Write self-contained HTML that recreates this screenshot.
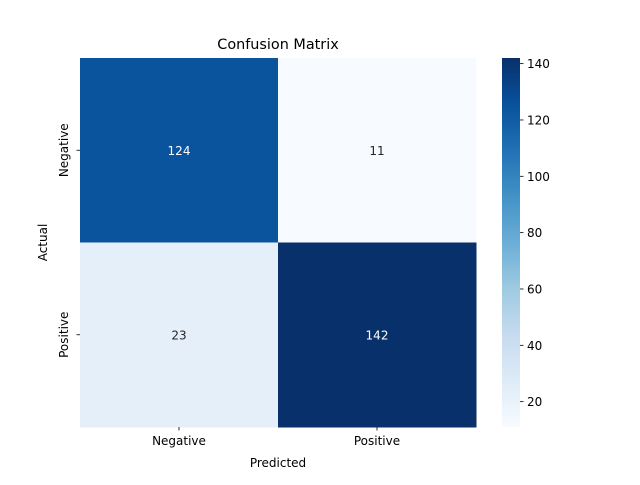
<!DOCTYPE html>
<html><head><meta charset="utf-8"><style>
body{margin:0;background:#fff;font-family:"Liberation Sans","DejaVu Sans",sans-serif;}
text{font-family:"DejaVu Sans","Liberation Sans",sans-serif;}
</style></head><body>
<svg id="chart" width="640" height="480" viewBox="0 0 640 480" xmlns="http://www.w3.org/2000/svg">
<defs><linearGradient id="cbar" x1="0" y1="1" x2="0" y2="0"></linearGradient></defs>
<rect width="640" height="480" fill="#fff"/>
<text x="278" y="49" font-size="14.4" text-anchor="middle">Confusion Matrix</text>
<g id="cells"></g>
<g id="axes"></g>
<text x="278" y="467" font-size="12" text-anchor="middle">Predicted</text>
<text x="0" y="0" font-size="12" text-anchor="middle" transform="translate(47,242.5) rotate(-90)">Actual</text>
<rect x="502" y="58" width="18" height="369" fill="url(#cbar)"/>
<g id="cbticks"></g>
</svg>
<script>
const categories = ["Negative", "Positive"];
const matrix = [[124, 11], [23, 142]];
const cbTicks = [20, 40, 60, 80, 100, 120, 140];

const NS = "http://www.w3.org/2000/svg";
const stops = ["#f7fbff","#deebf7","#c6dbef","#9ecae1","#6baed6","#4292c6","#2171b5","#08519c","#08306b"];
const flat = matrix.flat();
const vmin = Math.min(...flat), vmax = Math.max(...flat);
const X0 = 80, Y0 = 58, W = 396, H = 369;
const n = categories.length;
const cw = W / n, ch = H / n;
function hex(h){return [1,3,5].map(i=>parseInt(h.substr(i,2),16));}
function cmap(t){
  t = Math.max(0, Math.min(1, t));
  const p = t * (stops.length - 1), i = Math.min(Math.floor(p), stops.length - 2), f = p - i;
  const a = hex(stops[i]), b = hex(stops[i+1]);
  return "rgb(" + a.map((v,k)=>Math.round(v + (b[k]-v)*f)).join(",") + ")";
}
function norm(v){return (v - vmin) / (vmax - vmin);}
function mk(tag, attrs, parent){
  const e = document.createElementNS(NS, tag);
  for (const k in attrs) e.setAttribute(k, attrs[k]);
  parent.appendChild(e);
  return e;
}
const cells = document.getElementById("cells");
matrix.forEach((row, r) => row.forEach((v, c) => {
  const rect = mk("rect", {x: X0 + c*cw, y: Y0 + r*ch, width: cw + 0.5, height: ch + 0.5, fill: cmap(norm(v))}, cells);
  
  
  const t = mk("text", {x: X0 + (c+0.5)*cw, y: Y0 + (r+0.5)*ch + 4.5, "font-size": 12, "text-anchor": "middle", fill: norm(v) > 0.5 ? "#fff" : "#262626"}, cells);
  t.textContent = v;
  
  
}));
const axes = document.getElementById("axes");
categories.forEach((cat, i) => {
  const cx = X0 + (i+0.5)*cw;
  const tk = mk("line", {x1: cx, x2: cx, y1: Y0+H, y2: Y0+H+3.5, stroke: "#000", "stroke-width": 0.8}, axes);
  
  
  const lx = mk("text", {x: cx, y: Y0+H+18, "font-size": 12, "text-anchor": "middle"}, axes);
  lx.textContent = cat;
  
  
  const cy = Y0 + (i+0.5)*ch;
  const ty = mk("line", {x1: X0-3.5, x2: X0, y1: cy, y2: cy, stroke: "#000", "stroke-width": 0.8}, axes);
  
  
  const ly = mk("text", {x: 0, y: 0, "font-size": 12, "text-anchor": "middle", transform: "translate(" + (X0-12) + "," + cy + ") rotate(-90)"}, axes);
  ly.textContent = cat;
  
  
});
const grad = document.getElementById("cbar");
stops.forEach((s, i) => mk("stop", {offset: (i/(stops.length-1)*100) + "%", "stop-color": s}, grad));
const cbt = document.getElementById("cbticks");
cbTicks.forEach(v => {
  const y = 58 + 369 - norm(v) * 369;
  const l = mk("line", {x1: 520, x2: 523.5, y1: y, y2: y, stroke: "#000", "stroke-width": 0.8}, cbt);
  
  
  const t = mk("text", {x: 527, y: y + 4.5, "font-size": 12}, cbt);
  t.textContent = v;
  
  
});
</script>
</body></html>
